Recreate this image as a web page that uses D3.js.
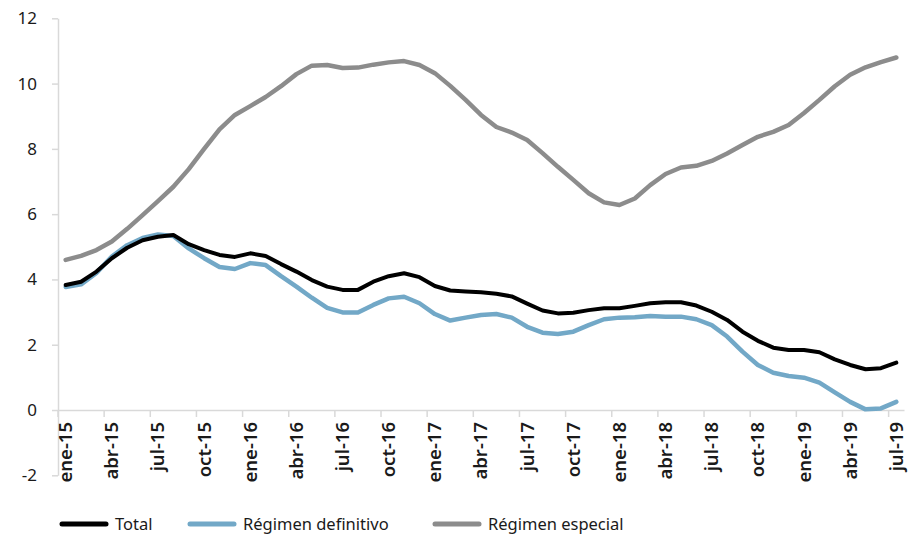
<!DOCTYPE html>
<html>
<head>
<meta charset="utf-8">
<script src="https://cdn.jsdelivr.net/npm/d3@7"></script>
<style>
body { margin: 0; background: #fff; }
text { font-family: "Noto Sans", sans-serif; fill: #1a1a1a; }
</style>
</head>
<body>
<svg id="chart" width="911" height="535"></svg>
<script>
var months = ["ene-15","feb-15","mar-15","abr-15","may-15","jun-15","jul-15","ago-15","sep-15","oct-15","nov-15","dic-15",
	"ene-16","feb-16","mar-16","abr-16","may-16","jun-16","jul-16","ago-16","sep-16","oct-16","nov-16","dic-16",
	"ene-17","feb-17","mar-17","abr-17","may-17","jun-17","jul-17","ago-17","sep-17","oct-17","nov-17","dic-17",
	"ene-18","feb-18","mar-18","abr-18","may-18","jun-18","jul-18","ago-18","sep-18","oct-18","nov-18","dic-18",
	"ene-19","feb-19","mar-19","abr-19","may-19","jun-19","jul-19"];

var total = [3.83,3.93,4.24,4.65,4.97,5.2,5.31,5.36,5.08,4.9,4.75,4.69,
	4.8,4.72,4.47,4.24,3.98,3.78,3.68,3.68,3.93,4.1,4.19,4.07,
	3.8,3.66,3.63,3.61,3.56,3.48,3.26,3.05,2.96,2.98,3.06,3.12,
	3.12,3.19,3.27,3.3,3.3,3.2,3.01,2.76,2.4,2.12,1.91,1.84,
	1.84,1.77,1.55,1.38,1.25,1.28,1.45];

var definitivo = [3.77,3.85,4.2,4.7,5.05,5.27,5.38,5.33,4.95,4.65,4.38,4.32,
	4.5,4.44,4.1,3.78,3.44,3.13,2.99,2.99,3.22,3.42,3.47,3.27,
	2.94,2.74,2.83,2.91,2.94,2.83,2.55,2.37,2.33,2.4,2.6,2.78,
	2.83,2.84,2.88,2.86,2.86,2.78,2.6,2.25,1.79,1.38,1.14,1.04,
	0.99,0.84,0.54,0.25,0.02,0.05,0.25];

var especial = [4.6,4.72,4.9,5.16,5.55,5.97,6.4,6.84,7.38,8.0,8.6,9.04,
	9.31,9.59,9.92,10.29,10.55,10.57,10.48,10.49,10.58,10.65,10.69,10.57,
	10.32,9.93,9.5,9.04,8.67,8.5,8.27,7.87,7.45,7.05,6.64,6.36,
	6.28,6.48,6.89,7.23,7.43,7.48,7.63,7.86,8.12,8.37,8.52,8.73,
	9.1,9.5,9.92,10.27,10.5,10.66,10.8];

var tickLabels = ["ene-15","abr-15","jul-15","oct-15","ene-16","abr-16","jul-16","oct-16",
	"ene-17","abr-17","jul-17","oct-17","ene-18","abr-18","jul-18","oct-18","ene-19","abr-19","jul-19"];
var yTicks = [-2,0,2,4,6,8,10,12];

var seriesNames = ["Total","Régimen definitivo","Régimen especial"];
var seriesColors = ["#000000","#72a8c7","#8c8c8c"];
var seriesData = [total, definitivo, especial];

var svg = d3.select("#chart");

var x = d3.scaleBand().domain(months).range([58, 904]).padding(0);
var y = d3.scaleLinear().domain([-2, 12]).range([475.3, 18.3]);
var bw = x.bandwidth();

// y axis
var yAxis = svg.append("g")
	.attr("transform", "translate(58,0)")
	.call(d3.axisLeft(y).tickValues(yTicks).tickFormat(function(d){ return String(d); })
		.tickSize(6).tickSizeOuter(0).tickPadding(15));
yAxis.select(".domain").attr("stroke", "#d9d9d9").attr("stroke-width", 1.5);
yAxis.selectAll(".tick line").attr("stroke", "#d9d9d9").attr("stroke-width", 1.5);
yAxis.selectAll(".tick text").style("font-size", "17px").attr("fill", "#1a1a1a");

// x axis along zero
var xAxis = svg.append("g")
	.attr("transform", "translate(0," + y(0) + ")")
	.call(d3.axisBottom(x).tickValues(tickLabels).tickSize(7).tickSizeOuter(0));
xAxis.select(".domain").attr("stroke", "#d9d9d9").attr("stroke-width", 1.5);
xAxis.selectAll(".tick line")
	.attr("stroke", "#d9d9d9").attr("stroke-width", 1.5)
	.attr("x1", -bw / 2).attr("x2", -bw / 2);
xAxis.selectAll(".tick text")
	.style("font-size", "18.5px")
	.style("font-weight", "600")
	.attr("fill", "#1a1a1a")
	.attr("text-anchor", "end")
	.attr("transform", "rotate(-90)")
	.attr("x", -12)
	.attr("y", 0)
	.attr("dy", "0.35em");

// lines
var line = d3.line()
	.x(function(d, i){ return x(months[i]) + bw / 2; })
	.y(function(d){ return y(d); });

[2, 1, 0].forEach(function(k){
	svg.append("path")
		.datum(seriesData[k])
		.attr("fill", "none")
		.attr("stroke", seriesColors[k])
		.attr("stroke-width", k == 0 ? 4 : 4.5)
		.attr("stroke-linejoin", "round")
		.attr("stroke-linecap", "round")
		.attr("d", line);
});

// legend
var legendX = [62, 190, 435];
var legend = svg.append("g");
seriesNames.forEach(function(name, k){
	legend.append("line")
		.attr("x1", legendX[k]).attr("x2", legendX[k] + 44)
		.attr("y1", 524).attr("y2", 524)
		.attr("stroke", seriesColors[k])
		.attr("stroke-width", 5)
		.attr("stroke-linecap", "round");
	legend.append("text")
		.attr("x", legendX[k] + 53)
		.attr("y", 530)
		.style("font-size", "16.5px")
		.text(name);
});
</script>
</body>
</html>
